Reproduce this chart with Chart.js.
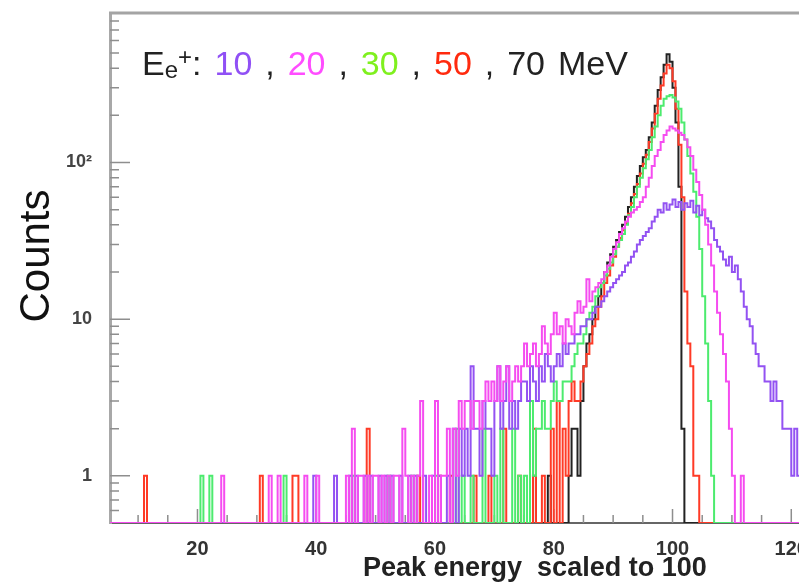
<!DOCTYPE html>
<html>
<head>
<meta charset="utf-8">
<script src="https://cdn.jsdelivr.net/npm/chart.js@4.4.1/dist/chart.umd.min.js"></script>
<style>
  body { margin: 0; background: #fff; }
  #wrap { position: relative; width: 799px; height: 583px; overflow: hidden; font-family: 'Liberation Sans', Arial, sans-serif; }
  #note { position: absolute; left: 142px; top: 46px; font-size: 34px; line-height: 34px; color: #222; white-space: pre; word-spacing: 3.5px; }
  #note .sub { font-size: 24px; position: relative; top: 3px; }
  #note .sup { font-size: 24px; position: relative; top: -10px; }
  #ytitle { position: absolute; left: -65px; top: 231px; width: 200px; height: 50px; line-height: 50px; text-align: center; font-size: 42px; color: #111; transform: rotate(-90deg); }
  #xtitle { position: absolute; left: 363px; top: 554px; font-size: 27px; line-height: 27px; font-weight: bold; color: #222; white-space: pre; }
</style>
</head>
<body>
<div id="wrap">
  <canvas id="myChart" width="799" height="583"></canvas>
  <div id="note"></div>
  <div id="ytitle">Counts</div>
  <div id="xtitle">Peak energy  scaled to 100</div>
</div>
<script>
// histogram binning (bins of 0.5 starting at 5)
const binStart = 5;
const binWidth = 0.5;
// y range of the log axis; empty bins sit on the floor
const yMin = 0.5;
const yMax = 900;

// beam energies and colours
const energies = ['10', '20', '30', '50', '70'];
const lineColors = ['#9352f2', '#f54cf0', '#4ceb6e', '#ff3a26', '#222222'];
const textColors = ['#9050f5', '#ff4dff', '#7ff01e', '#ff2a0e', '#222222'];

// counts per bin, 10 units per row
const counts10 = [
  0,0,0,0,0,0,0,0,0,0, 0,0,0,0,0,0,0,0,0,0,
  0,0,0,0,0,0,0,0,0,0, 0,0,0,0,0,0,0,0,0,0,
  0,0,0,0,0,0,0,0,0,0, 0,0,0,0,0,0,0,0,0,0,
  0,0,0,0,0,0,0,0,0,1, 0,0,0,0,0,0,1,0,0,0,
  0,1,0,1,0,0,1,0,1,0, 0,1,0,1,0,1,0,0,1,0,
  0,1,0,1,0,0,1,0,0,1, 0,1,0,0,1,0,2,0,2,1,
  2,1,5,2,2,1,3,2,2,1, 3,5,2,3,5,2,3,2,3,4,
  4,3,5,4,3,5,4,6,5,4, 5,6,5,7,6,7,7,8,8,9,
  9,10,10,11,12,12,13,14,15,16, 17,18,19,20,22,23,25,27,30,32,
  34,36,38,42,45,50,48,55,50,54, 58,52,56,50,55,52,57,48,53,46,
  50,44,42,38,32,29,27,24,22,25, 20,22,18,15,12,10,9,7,6,5,
  5,4,4,3,4,3,3,2,2,2, 1,2,1,1
];
const counts20 = [
  0,0,0,0,0,0,0,0,0,0, 0,0,0,0,0,0,0,0,0,0,
  0,0,0,0,0,0,0,0,0,0, 0,0,0,0,0,0,0,0,1,0,
  0,0,0,0,0,0,0,0,0,0, 0,0,0,0,1,0,0,1,0,0,
  0,0,0,0,0,0,1,0,0,0, 1,0,0,0,0,0,0,0,0,0,
  1,0,2,0,1,1,0,1,0,1, 1,0,1,0,1,0,1,1,0,2,
  1,0,1,0,1,3,0,0,1,0, 3,0,1,1,2,0,2,1,3,2,
  3,3,2,3,3,2,3,4,3,4, 3,5,3,4,5,3,4,5,4,5,
  7,5,6,7,5,6,9,7,6,8, 11,8,9,7,10,9,8,11,13,11,
  12,18,13,15,16,17,18,20,22,25, 28,31,35,38,42,45,48,50,52,56,
  60,70,80,95,110,120,135,150,160,170, 165,160,155,150,140,125,110,90,75,62,
  50,40,30,22,15,11,8,6,4,2, 1,0,0,1,0,0,0,0,0,0,
  0,0,0,0,0,0,0,0,0,0, 0,0,0,0
];
const counts30 = [
  0,0,0,0,0,0,0,0,0,0, 0,0,0,0,0,0,0,0,0,0,
  0,0,0,0,0,0,0,0,0,0, 0,1,0,0,1,0,0,0,0,0,
  0,0,0,0,0,0,0,0,0,0, 0,0,0,0,0,0,0,0,0,1,
  0,0,0,0,0,0,0,0,0,0, 0,0,0,0,0,0,0,0,0,0,
  0,0,1,0,0,0,0,0,0,0, 0,0,0,0,1,0,0,0,0,0,
  0,0,1,0,0,0,0,0,0,0, 1,0,0,0,0,0,0,2,0,1,
  0,0,1,0,0,0,2,0,0,0, 1,0,2,0,0,0,2,0,1,0,
  1,0,3,1,2,2,3,2,2,3, 4,3,3,4,4,4,5,6,7,7,
  8,10,11,12,14,16,17,19,21,23, 26,29,32,35,40,46,52,60,70,80,
  92,105,120,145,170,200,230,255,265,270, 260,245,220,180,140,110,85,65,45,28,
  14,7,3,1,0,0,0,0,0,0, 0,0,0,0,0,0,0,0,0,0,
  0,0,0,0,0,0,0,0,0,0, 0,0,0,0
];
const counts50 = [
  0,0,0,0,0,0,0,0,0,0, 0,0,1,0,0,0,0,0,0,0,
  0,0,0,0,0,0,0,0,0,0, 0,0,0,0,0,0,0,0,0,0,
  0,0,0,0,0,0,0,0,0,0, 0,1,0,0,0,0,0,0,0,0,
  0,0,1,1,0,0,0,0,0,0, 0,0,0,0,0,0,0,0,0,0,
  0,0,0,0,0,0,0,2,0,0, 0,0,0,0,0,0,0,0,0,0,
  0,0,0,0,1,0,0,0,0,0, 0,1,0,0,0,1,0,0,0,0,
  0,0,0,1,0,0,0,0,1,0, 0,0,0,2,0,0,0,0,1,0,
  0,0,0,2,0,0,1,0,0,2, 0,3,0,2,1,3,4,3,3,4,
  5,6,7,9,10,12,14,17,19,22, 25,29,33,37,41,47,55,63,73,85,
  98,112,135,165,205,255,310,370,420,400, 330,220,130,60,15,7,5,1,1,0,
  0,0,0,0,0,0,0,0,0,0, 0,0,0,0,0,0,0,0,0,0,
  0,0,0,0,0,0,0,0,0,0, 0,0,0,0
];
const counts70 = [
  0,0,0,0,0,0,0,0,0,0, 0,0,0,0,0,0,0,0,0,0,
  0,0,0,0,0,0,0,0,0,0, 0,0,0,0,0,0,0,0,0,0,
  0,0,0,0,0,0,0,0,0,0, 0,0,0,0,0,0,0,0,0,0,
  0,0,0,0,0,0,0,0,0,0, 0,0,0,0,0,0,0,0,0,0,
  0,0,0,0,0,0,0,0,0,0, 0,0,0,0,0,0,0,0,0,0,
  0,0,0,0,0,0,0,0,0,0, 0,0,0,0,0,0,0,0,0,0,
  0,0,0,0,0,0,0,0,0,0, 0,0,0,0,0,0,0,0,0,0,
  0,0,0,1,0,0,0,0,1,0, 0,0,0,0,0,1,2,2,1,3,
  5,7,8,10,12,14,17,20,23,26, 29,32,36,40,45,52,60,70,82,95,
  108,120,145,180,230,290,350,420,490,440, 300,180,70,2,0,0,0,0,0,0,
  0,0,0,0,0,0,0,0,0,0, 0,0,0,0,0,0,0,0,0,0,
  0,0,0,0,0,0,0,0,0,0, 0,0,0,0
];

// axis ticks and labels
const xTickValues = [10, 15, 20, 25, 30, 35, 40, 45, 50, 55, 60, 65, 70, 75, 80, 85, 90, 95, 100, 105, 110, 115, 120];
const xLabels = [20, 40, 60, 80, 100, 120];
const yTickValues = [0.6, 0.7, 0.8, 0.9, 1, 2, 3, 4, 5, 6, 7, 8, 9, 10, 20, 30, 40, 50, 60, 70, 80, 90, 100, 200, 300, 400, 500, 600, 700, 800, 900];
const yLabelValues = [1, 10, 100];
const yLabels = ['1', '10', '10²'];

const allCounts = [counts10, counts20, counts30, counts50, counts70];
// 20 MeV first so it ends up on top
const drawOrder = [1, 0, 2, 3, 4];

// energy caption
let note = 'E<span class="sub">e</span><span class="sup">+</span>: ';
energies.forEach((e, i) => {
  const txt = i === energies.length - 1 ? e + ' MeV' : e;
  note += `<span style="color:${textColors[i]}">${txt}</span>`;
  if (i < energies.length - 1) note += ' , ';
});
document.getElementById('note').innerHTML = note;

// inward ticks and the top frame line
const frameTicks = {
  id: 'frameTicks',
  beforeDatasetsDraw(chart) {
    const {ctx, chartArea: a, scales: {x, y}} = chart;
    ctx.save();
    ctx.strokeStyle = '#8e8e8e';
    ctx.lineWidth = 1.5;
    ctx.beginPath();
    x.ticks.forEach((t) => {
      const px = x.getPixelForValue(t.value);
      const len = t.value % 20 === 0 ? 14 : 8;
      ctx.moveTo(px, a.bottom);
      ctx.lineTo(px, a.bottom - len);
    });
    y.ticks.forEach((t) => {
      const py = y.getPixelForValue(t.value);
      const len = yLabelValues.includes(t.value) ? 20 : 9;
      ctx.moveTo(a.left, py);
      ctx.lineTo(a.left + len, py);
    });
    ctx.stroke();
    ctx.strokeStyle = '#a4a4a4';
    ctx.lineWidth = 3;
    ctx.beginPath();
    ctx.moveTo(a.left - 1, a.top);
    ctx.lineTo(a.right, a.top);
    ctx.stroke();
    ctx.restore();
  }
};

// log axis can't show 0, so empty bins are drawn on the axis floor
const datasets = drawOrder.map((k) => ({
  label: energies[k] + ' MeV',
  data: allCounts[k].map((c, i) => ({x: binStart + binWidth * (i + 0.5), y: c > 0 ? c : yMin})),
  borderColor: lineColors[k],
  borderWidth: 2,
  stepped: 'middle',
  pointRadius: 0,
  fill: false
}));

const ctx = document.getElementById('myChart');
new Chart(ctx, {
  type: 'line',
  data: {datasets: datasets},
  options: {
    responsive: false,
    animation: false,
    layout: {padding: {top: 13, left: 0, right: 0, bottom: 0}},
    plugins: {legend: {display: false}, tooltip: {enabled: false}},
    scales: {
      x: {
        type: 'linear',
        min: 5.27,
        max: 121.3,
        afterBuildTicks: (s) => { s.ticks = xTickValues.map((v) => ({value: v})); },
        afterFit: (s) => { s.height = 60; s.paddingLeft = 0; s.paddingRight = 0; },
        grid: {display: false},
        border: {color: '#666', width: 2},
        ticks: {
          autoSkip: false,
          maxRotation: 0,
          padding: 6,
          color: '#333',
          font: {family: 'Liberation Sans', size: 20, weight: 'bold'},
          callback: (v) => xLabels.includes(v) ? String(v) : ''
        }
      },
      y: {
        type: 'logarithmic',
        min: yMin,
        max: yMax,
        afterBuildTicks: (s) => { s.ticks = yTickValues.map((v) => ({value: v})); },
        afterFit: (s) => { s.width = 110; s.paddingTop = 0; s.paddingBottom = 0; },
        grid: {display: false},
        border: {color: '#a8a8a8', width: 3},
        ticks: {
          autoSkip: false,
          padding: 10,
          color: '#444',
          font: {family: 'Liberation Sans', size: 18, weight: 'bold'},
          callback: (v) => {
            const i = yLabelValues.indexOf(v);
            return i >= 0 ? yLabels[i] : '';
          }
        }
      }
    }
  },
  plugins: [frameTicks]
});
</script>
</body>
</html>
